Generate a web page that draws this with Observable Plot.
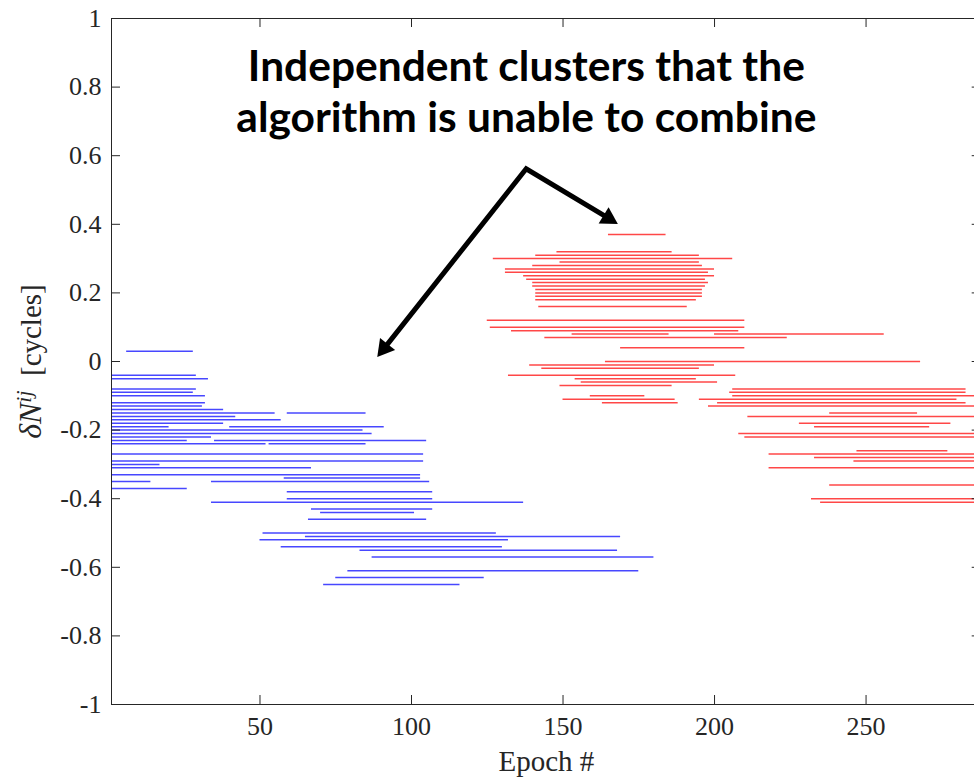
<!DOCTYPE html>
<html><head><meta charset="utf-8">
<script src="https://cdn.jsdelivr.net/npm/d3@7"></script>
<script src="https://cdn.jsdelivr.net/npm/@observablehq/plot@0.6"></script>
<style>
html,body{margin:0;padding:0;background:#fff;overflow:hidden;}
#wrap{width:974px;height:779px;overflow:hidden;position:relative;background:#fff;}
#wrap svg{max-width:none !important;}
</style></head><body><div id="wrap"></div>
<script>
// ---- data (epoch ranges of each ambiguity segment) ----
const blueY     = [0.03,-0.04,-0.05,-0.08,-0.09,-0.10,-0.12,-0.13,-0.14,-0.15,-0.15,-0.16,-0.17,-0.18,-0.19,-0.19,-0.20,-0.21,-0.22,-0.23,-0.23,-0.24,-0.24,-0.27,-0.29,-0.30,-0.31,-0.33,-0.34,-0.35,-0.35,-0.37,-0.38,-0.40,-0.41,-0.43,-0.44,-0.46,-0.50,-0.51,-0.52,-0.54,-0.55,-0.57,-0.61,-0.63,-0.65];
const blueStart = [6,1,1,1,1,1,1,1,1,1,59,1,1,1,1,40,1,1,1,1,35,1,53,1,1,1,1,1,58,1,34,1,59,59,34,67,70,66,51,65,50,57,83,87,79,75,71];
const blueEnd   = [28,29,33,29,28,32,32,31,38,55,85,42,57,38,20,91,84,87,34,26,105,52,85,104,104,17,67,103,103,14,106,26,107,107,137,107,101,105,128,169,132,130,168,180,175,124,116];

const redY     = [0.37,0.32,0.31,0.30,0.29,0.28,0.27,0.26,0.25,0.24,0.23,0.22,0.21,0.20,0.19,0.18,0.16,0.12,0.10,0.09,0.08,0.08,0.07,0.04,0.00,-0.01,-0.02,-0.04,-0.05,-0.06,-0.07,-0.08,-0.09,-0.10,-0.10,-0.11,-0.11,-0.12,-0.12,-0.13,-0.15,-0.16,-0.18,-0.19,-0.21,-0.22,-0.26,-0.27,-0.28,-0.29,-0.31,-0.36,-0.40,-0.41];
const redStart = [165,148,141,127,149,140,131,131,137,138,140,140,141,141,141,141,142,125,126,133,153,200,144,169,164,139,143,132,154,156,149,206,205,159,206,150,195,163,201,198,238,211,228,233,208,210,247,218,233,246,218,238,232,235];
const redEnd   = [184,186,195,206,195,196,200,198,200,197,198,197,196,196,196,194,191,210,210,208,185,256,224,210,268,200,195,207,194,201,186,283,283,177,290,187,280,188,283,290,267,290,278,271,290,290,277,290,290,290,290,290,290,290];

const xTicks = [50,100,150,200,250];
const yTicks = [-1,-0.8,-0.6,-0.4,-0.2,0,0.2,0.4,0.6,0.8,1];
const xDomain = [1,288];
const yDomain = [-1,1];

const titleText = "Independent clusters that the\nalgorithm is unable to combine";
const titlePos = [{x:137.9, y:0.79}];
// arrow annotation: shared tail point and the two tips (data coordinates)
const arrowTail = {x:137.85, y:0.562};
const arrowTips = [{x:168.1, y:0.401}, {x:88.7, y:0.013}];
const xLabel = "Epoch #";
const yLabel = "dN_ij [cycles]";

// ---- build ----
const blue = blueY.map((y,i)=>({y, x1:blueStart[i], x2:blueEnd[i]}));
const red  = redY.map((y,i)=>({y, x1:redStart[i], x2:redEnd[i]}));

const W = 982, H = 779, mL = 111, mR = 1.3, mT = 18, mB = 75;
const pw = W - mL - mR, ph = H - mT - mB, tk = 9;
const axisColor = "#262626";

// arrowheads: filled triangles placed so their tip sits on the arrow tip
const kx = pw/(xDomain[1]-xDomain[0]), ky = ph/(yDomain[1]-yDomain[0]);
const headArea = 160, headR = Math.sqrt(headArea/Math.PI), tipDist = 2*Math.sqrt(headArea/(3*Math.sqrt(3)));
const heads = arrowTips.map(t => {
  const dxp = (t.x - arrowTail.x)*kx, dyp = -(t.y - arrowTail.y)*ky;
  const len = Math.hypot(dxp, dyp), ux = dxp/len, uy = dyp/len;
  return {x: t.x - ux*tipDist/kx, y: t.y + uy*tipDist/ky, rot: Math.atan2(dyp, dxp)*180/Math.PI + 90};
});
const shaft = [heads[1], arrowTail, heads[0]];

const chart = Plot.plot({
  width: W, height: H,
  marginLeft: mL, marginRight: mR, marginTop: mT, marginBottom: mB,
  x: {domain: xDomain, axis: null},
  y: {domain: yDomain, axis: null},
  style: {fontFamily: "'Liberation Serif', serif", fontSize: "26px", color: axisColor, background: "#fff"},
  marks: [
    Plot.ruleY(blue, {y:"y", x1:"x1", x2:"x2", stroke:"#0000ff", strokeWidth:1.5, strokeOpacity:0.72, clip:true}),
    Plot.ruleY(red,  {y:"y", x1:"x1", x2:"x2", stroke:"#ff0000", strokeWidth:1.5, strokeOpacity:0.72, clip:true}),
    Plot.frame({stroke: axisColor, strokeWidth: 1}),
    Plot.tickX(xTicks, {x: d=>d, insetTop: ph - tk, stroke: axisColor}),
    Plot.tickX(xTicks, {x: d=>d, insetBottom: ph - tk, stroke: axisColor}),
    Plot.tickY(yTicks, {y: d=>d, insetRight: pw - tk, stroke: axisColor}),
    Plot.tickY(yTicks, {y: d=>d, insetLeft: pw - tk, stroke: axisColor}),
    Plot.axisX(xTicks, {anchor:"bottom", tickSize:0, tickPadding:12, label:null, tickFormat: d=>String(d)}),
    Plot.axisY(yTicks, {anchor:"left", tickSize:0, tickPadding:10, label:null, tickFormat: d=>String(d)}),
    Plot.text([xLabel], {frameAnchor:"bottom", dy:66, text:d=>d, fontSize:29}),
    Plot.text([yLabel], {frameAnchor:"left", textAnchor:"middle", dx:-80, rotate:-90, text:d=>d, fontSize:29}),
    Plot.line(shaft, {x:"x", y:"y", stroke:"black", strokeWidth:5, strokeLinejoin:"miter", strokeMiterlimit:10, curve:"linear"}),
    Plot.dot(heads, {x:"x", y:"y", symbol:"triangle", r:headR, rotate:"rot", fill:"black", stroke:"none"}),
    Plot.text(titlePos, {x:"x", y:"y", text:()=>titleText, fontFamily:"Lato, 'Open Sans', sans-serif", fontWeight:"bold", fontSize:42.5, lineHeight:1.2, fill:"#000"})
  ]
});
chart.style.maxWidth = "none";

d3.select(chart).selectAll("text").filter(function(){return this.textContent === yLabel;}).each(function(){
  const t = d3.select(this);
  t.text(null);
  t.append("tspan").attr("font-style","italic").attr("font-size","1.1em").text("\u03B4N");
  t.append("tspan").attr("font-style","italic").attr("font-size","0.75em").attr("dy","-0.45em").text("ij");
  t.append("tspan").attr("dy","0.34em").text("\u00A0\u00A0[cycles]");
});

document.getElementById("wrap").appendChild(chart);
</script>
</body></html>
